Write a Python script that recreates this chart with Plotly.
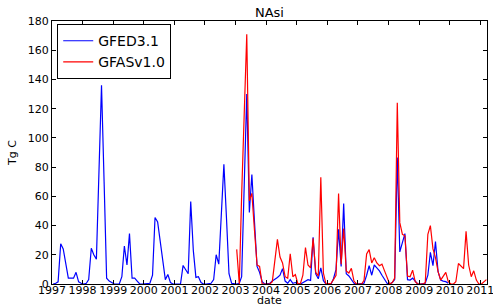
import pandas as pd
import plotly.graph_objects as go

# GFED3.1 monthly values (Tg C), Jan 1997 - Dec 2009
gfed_1997 = [0, 0.5, 1.5, 27.5, 24, 14, 4, 4, 4, 8, 1.5, 0.5]
gfed_1998 = [0, 0.5, 3, 24.5, 20, 17, 76, 136, 70, 4, 2, 1]
gfed_1999 = [0, 0, 0, 5, 26, 13, 34.5, 4, 4, 2, 0, 0]
gfed_2000 = [0, 0, 0.5, 6, 45.5, 42.5, 30, 16, 3, 6.5, 1, 0]
gfed_2001 = [0, 0, 0, 12.7, 9.5, 7, 56.5, 23, 4.5, 5, 1, 0]
gfed_2002 = [0, 0, 0.5, 3, 20, 13.6, 48, 82, 45, 7, 0.5, 0]
gfed_2003 = [0, 0.5, 5, 68, 130, 49, 75, 43, 12, 8, 1.6, 0]
gfed_2004 = [0, 0.5, 2, 3.6, 4.5, 6, 10.5, 2, 0.5, 3, 0.5, 1]
gfed_2005 = [0, 0, 1, 2.3, 3, 2.5, 32, 7, 3.6, 11, 2.3, 0]
gfed_2006 = [0, 0, 3.6, 10, 37.4, 12, 55, 7, 5.5, 3.2, 0.5, 0]
gfed_2007 = [0, 0, 0.5, 6, 12.5, 6, 13, 11, 9, 6, 2.7, 0.5]
gfed_2008 = [0, 1, 3, 86.6, 22, 28, 34.5, 3, 2.7, 4, 1.6, 0]
gfed_2009 = [0, 0, 0.5, 6, 21.6, 12.5, 29, 8.4, 2.7, 2, 1.6, 0.5]

# GFASv1.0 monthly values (Tg C), Jan 2003 - Mar 2011
gfas_2003 = [23.7, 0, 61, 119, 171, 57, 62, 37, 13, 12, 0, 0]
gfas_2004 = [0, 0, 1.6, 15, 30.5, 18.5, 14.4, 5, 4, 20.7, 5, 6.4]
gfas_2005 = [0, 0.5, 6, 25, 13, 11, 31.3, 8, 5.5, 73, 7.5, 0]
gfas_2006 = [0, 0.5, 3, 6, 62, 13.5, 38, 9, 7.5, 10.7, 2, 0]
gfas_2007 = [0, 0, 2.5, 20.5, 23.5, 14.4, 18, 14.4, 12.5, 13.6, 9, 4.5]
gfas_2008 = [0, 1, 4, 124, 42, 34, 33, 5.5, 5, 9.5, 1.6, 0]
gfas_2009 = [0, 0, 1, 34, 40, 24, 18, 8.4, 2.7, 5, 8, 1.6]
gfas_2010 = [0, 0, 1.5, 14, 12.5, 10.5, 36, 13, 5, 9, 2.7, 0]
gfas_2011 = [0, 1.5, 3]

gfed_values = (gfed_1997 + gfed_1998 + gfed_1999 + gfed_2000 + gfed_2001 + gfed_2002 +
               gfed_2003 + gfed_2004 + gfed_2005 + gfed_2006 + gfed_2007 + gfed_2008 + gfed_2009)
gfas_values = (gfas_2003 + gfas_2004 + gfas_2005 + gfas_2006 + gfas_2007 + gfas_2008 +
               gfas_2009 + gfas_2010 + gfas_2011)

gfed_dates = pd.date_range("1997-01-01", periods=len(gfed_values), freq="MS") + pd.Timedelta(days=14)
gfas_dates = pd.date_range("2003-01-01", periods=len(gfas_values), freq="MS") + pd.Timedelta(days=14)

FONT = "DejaVu Sans"

fig = go.Figure()
fig.add_trace(go.Scatter(x=gfed_dates, y=gfed_values, mode="lines", name="GFED3.1",
                         line=dict(color="#0000ff", width=1.2)))
fig.add_trace(go.Scatter(x=gfas_dates, y=gfas_values, mode="lines", name="GFASv1.0",
                         line=dict(color="#ff0000", width=1.2)))

fig.update_layout(
    width=493, height=306,
    margin=dict(l=52, r=6, t=21, b=22, autoexpand=False),
    paper_bgcolor="white", plot_bgcolor="white",
    font=dict(family=FONT, size=11, color="black"),
    title=dict(text="NAsi", x=0.5465, xanchor="center", y=0.96, yanchor="middle",
               font=dict(family=FONT, size=13, color="black")),
    showlegend=True,
    legend=dict(x=0.012, y=0.988, xanchor="left", yanchor="top",
                bordercolor="black", borderwidth=1, bgcolor="white",
                font=dict(family=FONT, size=14, color="black"),
                tracegroupgap=0, itemwidth=30),
    annotations=[dict(text="date", xref="paper", yref="paper", x=0.5, y=-0.064,
                      xanchor="center", yanchor="middle", showarrow=False,
                      font=dict(family=FONT, size=11, color="black"))],
)
fig.update_xaxes(
    type="date", range=["1997-01-01", "2011-03-22"], automargin=False,
    tick0="1997-01-01", dtick="M12", tickformat="%Y", tickangle=0,
    ticks="inside", ticklen=4, tickcolor="black", ticklabelstandoff=-4,
    ticklabeloverflow="allow",
    showline=True, linecolor="black", linewidth=1, mirror="ticks",
    showgrid=False, zeroline=False,
    tickfont=dict(family=FONT, size=11, color="black"),
)
fig.update_yaxes(
    range=[0, 180], dtick=20, tick0=0, automargin=False,
    ticks="inside", ticklen=4, tickcolor="black",
    showline=True, linecolor="black", linewidth=1, mirror="ticks",
    showgrid=False, zeroline=False,
    tickfont=dict(family=FONT, size=11, color="black"),
    title=dict(text="Tg C", standoff=8, font=dict(family=FONT, size=11, color="black")),
)

fig.write_html("out.html", config={"displayModeBar": False},
               post_script="document.body.style.margin='0px';document.body.style.overflow='hidden';")
